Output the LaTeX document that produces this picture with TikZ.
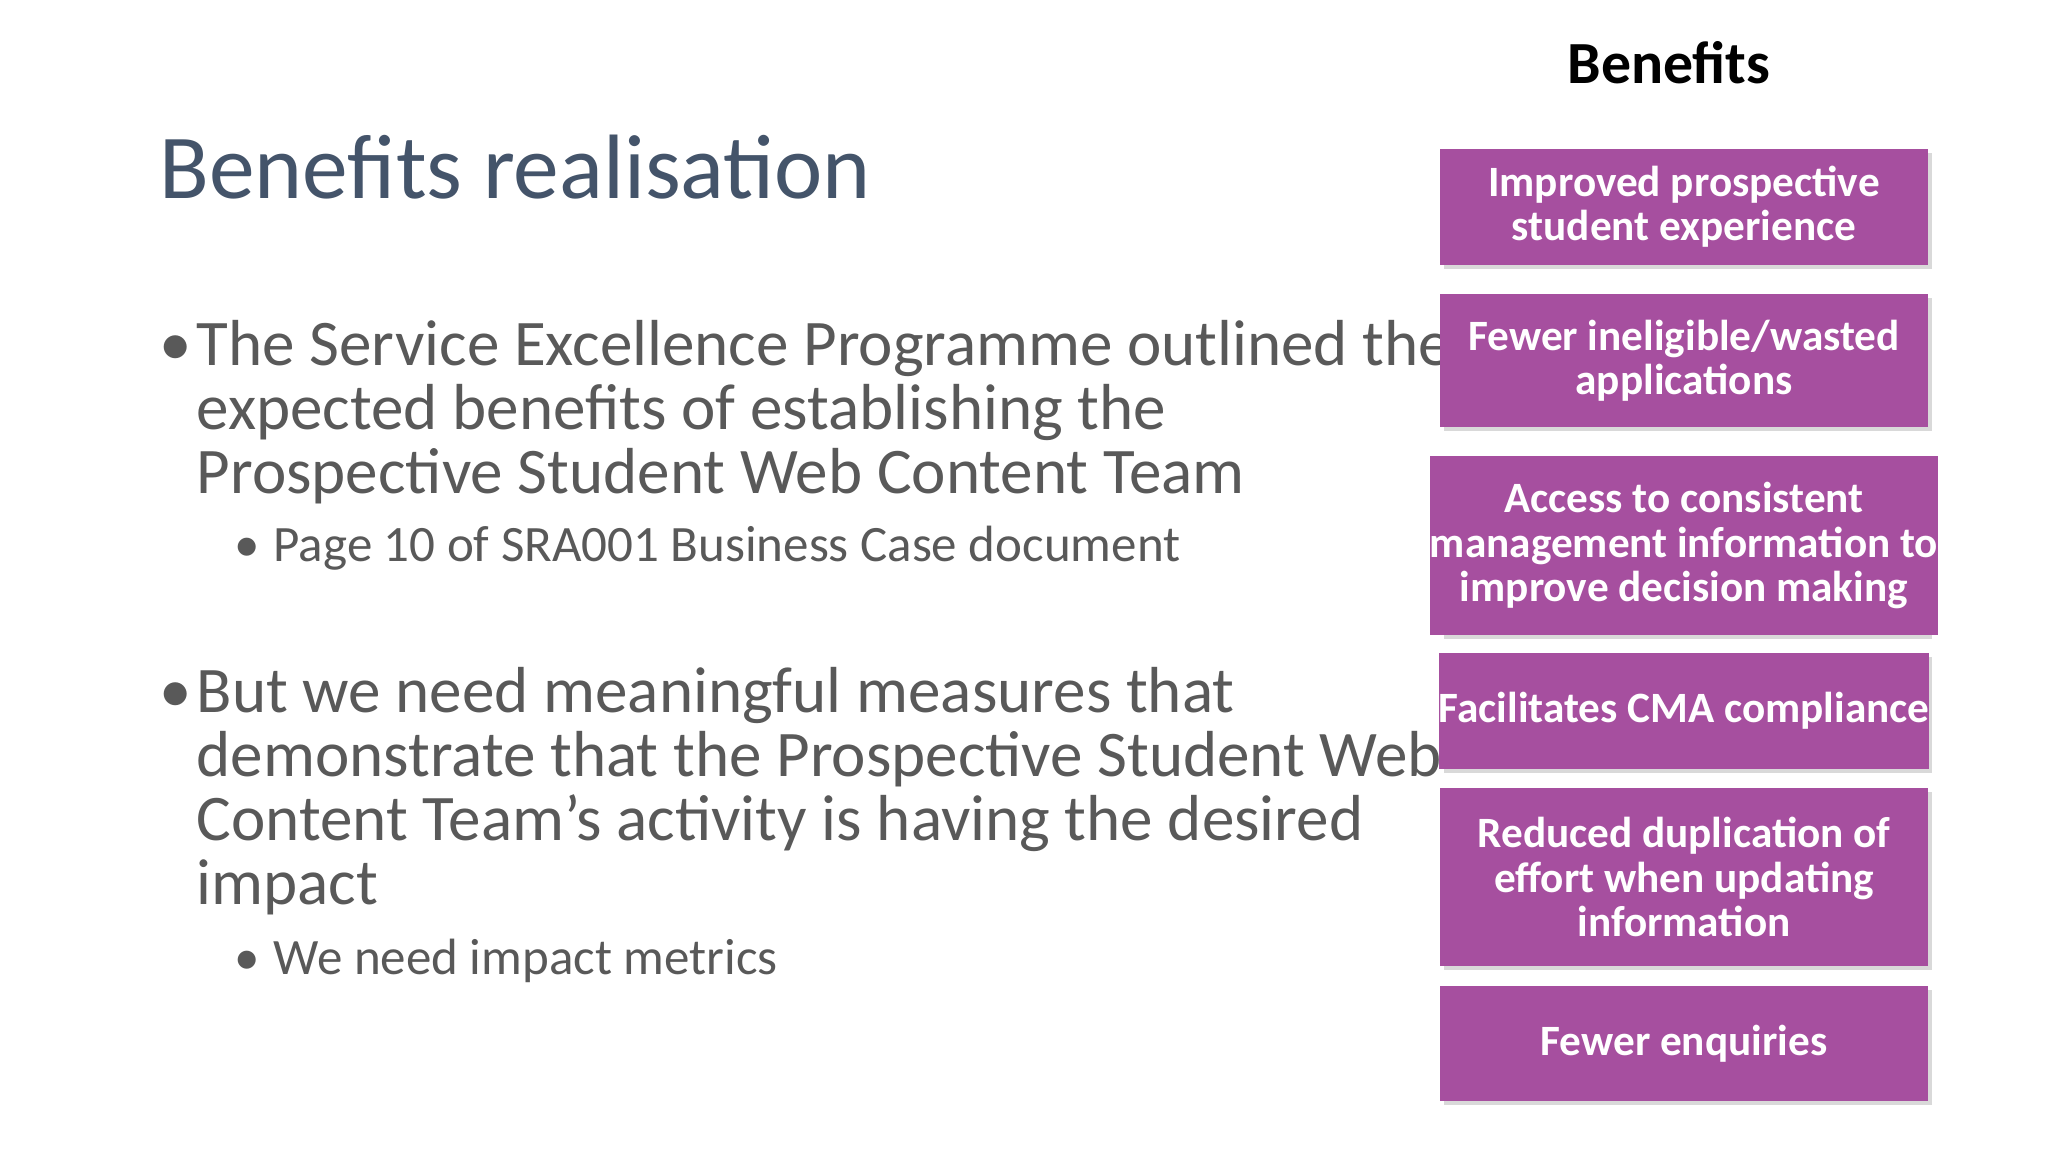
\documentclass[tikz,border=0pt]{standalone}
\usepackage{fontspec}
\setmainfont{Carlito}
\definecolor{titlec}{HTML}{44546A}
\definecolor{bodyc}{HTML}{595959}
\definecolor{boxc}{HTML}{A64F9F}
\begin{document}
\begin{tikzpicture}[x=0.01cm,y=-0.01cm,
  title/.style={anchor=base west,inner sep=0,text=titlec,font=\fontsize{26}{30}\selectfont},
  body/.style={anchor=base west,inner sep=0,text=bodyc,font=\fontsize{18.5}{22}\selectfont},
  sub/.style={anchor=base west,inner sep=0,text=bodyc,font=\fontsize{14.5}{17}\selectfont},
  benefit/.style={fill=boxc,text=white,font=\bfseries\fontsize{12.3}{12.6}\selectfont,align=center,inner sep=0,minimum width=4.87cm,drop shadow box/.try},
  shadowbox/.style={fill=black!15}]
\fill[white] (0,0) rectangle (2048,1152);
\node[title] (t) at (159,199) {Benefits realisation};
\node[body] (b1) at (159,366) {•};
\node[body] (l1) at (196,366) {The Service Excellence Programme outlined the};
\node[body] (l2) at (196,430) {expected benefits of establishing the};
\node[body] (l3) at (196,494) {Prospective Student Web Content Team};
\node[sub] (s1b) at (234,562) {•};
\node[sub] (s1) at (273,562) {Page 10 of SRA001 Business Case document};
\node[body] (b2) at (159,712) {•};
\node[body] (m1) at (196,712) {But we need meaningful measures that};
\node[body] (m2) at (196,776) {demonstrate that the Prospective Student Web};
\node[body] (m3) at (196,840) {Content Team’s activity is having the desired};
\node[body] (m4) at (196,904) {impact};
\node[sub] (s2b) at (234,974) {•};
\node[sub] (s2) at (273,974) {We need impact metrics};
\node[font=\bfseries\fontsize{17}{20}\selectfont,text=black] (h) at (1669,63) {Benefits};
\foreach \n/\a/\b/\t in {
  k1/149/265/{Improved prospective\\student experience},
  k2/294/427/{Fewer ineligible/wasted\\applications},
  k3/456/635/{Access to consistent\\management information to\\improve decision making},
  k4/653/769/{Facilitates CMA compliance},
  k5/788/966/{Reduced duplication of\\effort when updating\\information},
  k6/986/1101/{Fewer enquiries}}{
  \fill[shadowbox] (1444,\a+4) rectangle (1932,\b+4);
  \node[benefit,minimum height={(\b-\a)*0.01cm}] (\n) at (1684,{(\a+\b)/2}) {\t};
}
\end{tikzpicture}
\end{document}
